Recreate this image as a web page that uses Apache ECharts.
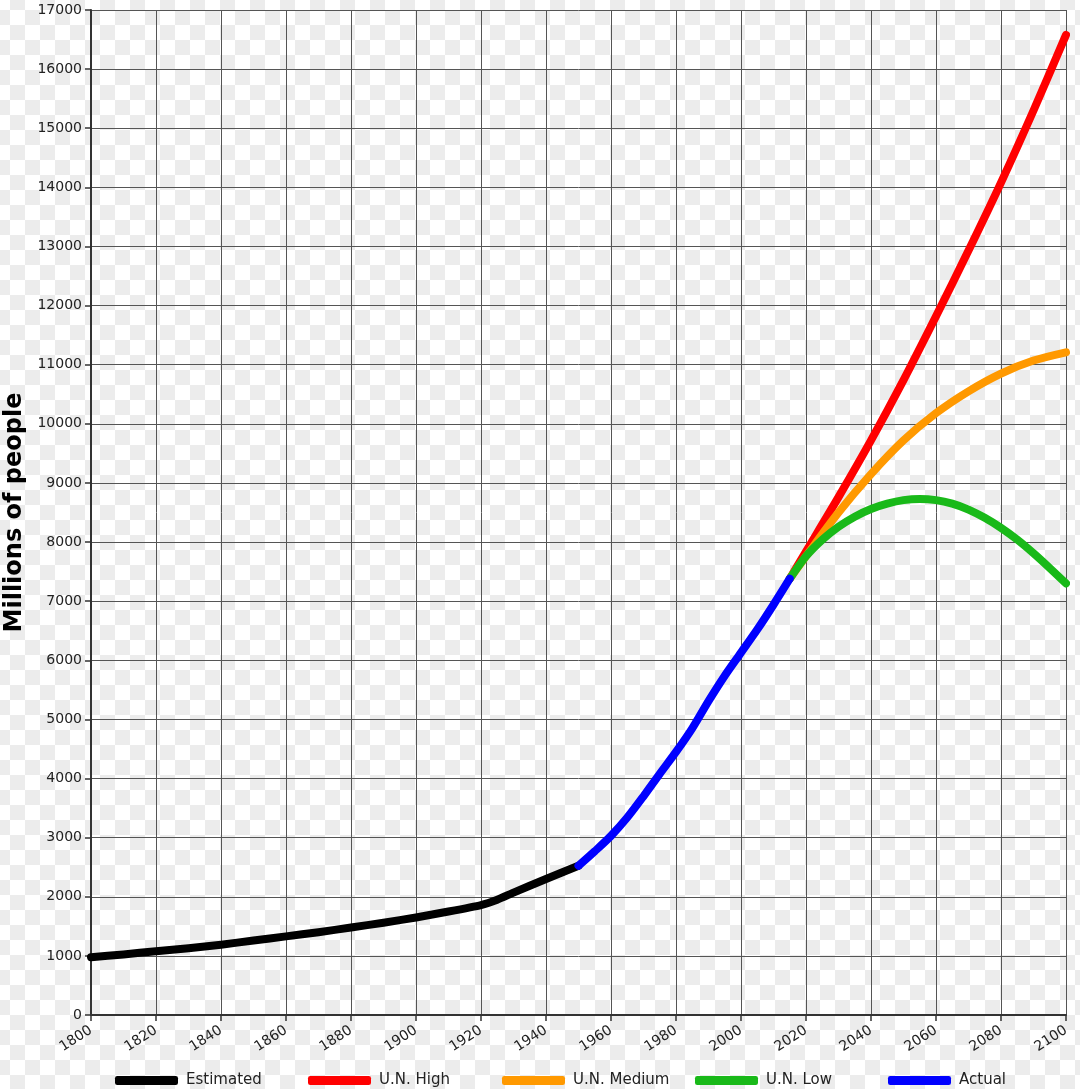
<!DOCTYPE html>
<html><head><meta charset="utf-8">
<script src="https://cdn.jsdelivr.net/npm/echarts@6/dist/echarts.min.js"></script>
<style>
html,body{margin:0;padding:0;}
body{width:1080px;height:1089px;background-color:#fff;
background-image:repeating-conic-gradient(#ececec 0 25%, #ffffff 0 50%);
background-size:30px 30px;background-position:10px 10px;}
#c{width:1080px;height:1089px;}
</style></head><body><div id="c"></div>
<script>
const estimated = [[1800,978],[1810,1025],[1820,1080],[1830,1130],[1840,1190],[1850,1260],[1860,1330],[1870,1400],[1880,1480],[1890,1560],[1900,1650],[1910,1750],[1920,1860],[1925,1950],[1930,2070],[1940,2300],[1950,2525]];
const actual = [[1950,2525],[1955,2770],[1960,3030],[1965,3340],[1970,3700],[1975,4080],[1980,4450],[1985,4850],[1990,5310],[1995,5740],[2000,6130],[2005,6520],[2010,6940],[2015,7380]];
const unHigh = [[2015,7380],[2020,7840],[2030,8760],[2040,9720],[2050,10740],[2060,11820],[2070,12930],[2080,14080],[2090,15300],[2100,16580]];
const unMedium = [[2015,7380],[2020,7760],[2030,8500],[2040,9150],[2050,9720],[2060,10180],[2070,10550],[2080,10850],[2090,11070],[2100,11210]];
const unLow = [[2015,7380],[2020,7760],[2025,8040],[2030,8260],[2035,8430],[2040,8560],[2045,8650],[2050,8710],[2055,8730],[2060,8710],[2065,8650],[2070,8550],[2075,8410],[2080,8240],[2085,8040],[2090,7810],[2095,7560],[2100,7300]];
const seriesNames = ['Estimated','U.N. High','U.N. Medium','U.N. Low','Actual'];
const seriesColors = ['#000000','#ff0000','#ff9900','#19b919','#0000ff'];
const legendLefts = [110,303,497,690,883];

const chart = echarts.init(document.getElementById('c'));
const font = 'DejaVu Sans';
function mk(name, data, color, smooth){
  return {name, type:'line', data, smooth, symbol:'none', color,
    lineStyle:{width:8,color,cap:'round',join:'round'}, z: 3};
}
const series = [
  mk('U.N. High', unHigh, seriesColors[1], 0.3),
  mk('U.N. Medium', unMedium, seriesColors[2], 0.3),
  mk('U.N. Low', unLow, seriesColors[3], 0.3),
  mk('Estimated', estimated, seriesColors[0], 0.15),
  mk('Actual', actual, seriesColors[4], 0.3)
];
const legends = seriesNames.map((n,i)=>({
  data:[n], left:legendLefts[i], top:1068, icon:'roundRect', itemWidth:63, itemHeight:9,
  selectedMode:false,
  textStyle:{fontFamily:font,fontSize:15,color:'#222',padding:[0,0,0,3]}
}));
chart.setOption({
  backgroundColor:'transparent',
  animation:false,
  grid:{left:91,right:14,top:10,bottom:74,containLabel:false,outerBoundsMode:'none'},
  legend:legends,
  xAxis:{type:'value',min:1800,max:2100,interval:20,
    axisLine:{show:true,lineStyle:{color:'#333',width:2}},
    axisTick:{show:true,length:6,lineStyle:{color:'#333',width:1.5}},
    axisLabel:{rotate:33,fontFamily:font,fontSize:14,color:'#222',margin:14,formatter:v=>String(v)},
    splitLine:{show:true,lineStyle:{color:'#555',width:1}}},
  yAxis:{type:'value',min:0,max:17000,interval:1000,
    name:'Millions of people',nameLocation:'middle',nameGap:62,
    nameTextStyle:{fontFamily:font,fontSize:24,fontWeight:'bold',color:'#000'},
    axisLine:{show:true,lineStyle:{color:'#333',width:2}},
    axisTick:{show:true,length:6,lineStyle:{color:'#333',width:1.5}},
    axisLabel:{fontFamily:font,fontSize:14,color:'#222',margin:9,formatter:v=>String(v)},
    splitLine:{show:true,lineStyle:{color:'#555',width:1}}},
  series
});
</script></body></html>
